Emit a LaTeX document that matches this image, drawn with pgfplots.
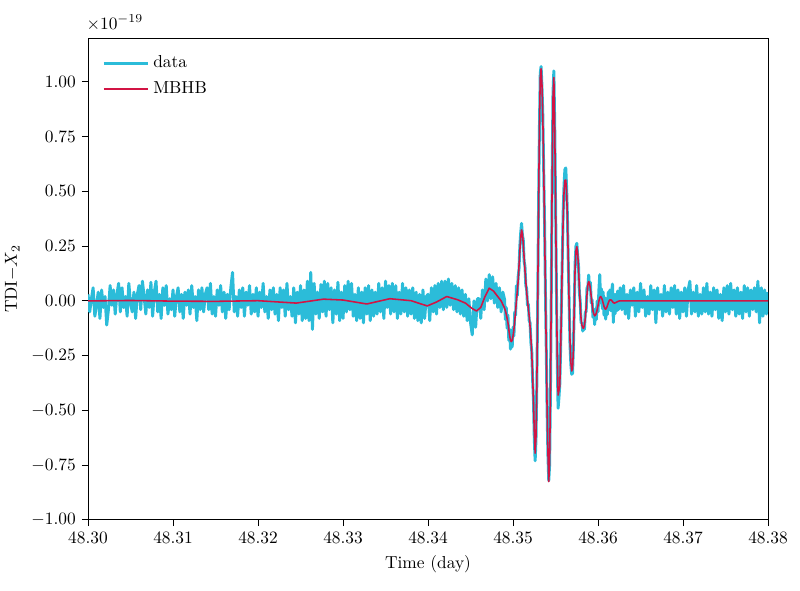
\documentclass[border=0pt]{standalone}
\usepackage{pgfplots}
\usepackage{pgfplotstable}
\pgfplotsset{compat=1.18}
\definecolor{datacol}{RGB}{43,188,217}
\definecolor{mbhbcol}{RGB}{210,20,68}

\pgfplotstableread{
x y
48.3000 0.03
48.3002 -0.05
48.3004 0.01
48.3006 0.06
48.3008 -0.07
48.3010 -0.02
48.3012 0.04
48.3014 -0.08
48.3016 0.05
48.3018 -0.03
48.3020 0.02
48.3022 -0.11
48.3024 -0.04
48.3026 0.07
48.3028 -0.02
48.3030 0.05
48.3032 -0.06
48.3034 0.03
48.3036 0.08
48.3038 -0.05
48.3040 0.06
48.3042 -0.03
48.3044 0.02
48.3046 -0.07
48.3048 0.08
48.3050 -0.01
48.3052 -0.05
48.3054 0.04
48.3056 -0.08
48.3058 0.03
48.3060 0.07
48.3062 -0.04
48.3064 0.09
48.3066 0.02
48.3068 -0.06
48.3070 0.05
48.3072 -0.03
48.3074 0.085
48.3076 -0.07
48.3078 0.04
48.3080 0.09
48.3082 -0.05
48.3084 0.03
48.3086 -0.08
48.3088 0.06
48.3090 -0.02
48.3092 0.07
48.3094 -0.06
48.3096 0.01
48.3098 -0.04
48.3100 0.05
48.3102 -0.07
48.3104 0.02
48.3106 0.06
48.3108 -0.05
48.3110 0.03
48.3112 -0.08
48.3114 0.04
48.3116 -0.02
48.3118 0.05
48.3120 -0.06
48.3122 0.07
48.3124 -0.03
48.3126 0.02
48.3128 -0.09
48.3130 0.05
48.3132 -0.04
48.3134 0.06
48.3136 -0.05
48.3138 0.03
48.3140 0.06
48.3142 -0.04
48.3144 0.08
48.3146 -0.06
48.3148 0.02
48.3150 -0.07
48.3152 0.05
48.3154 -0.02
48.3156 0.07
48.3158 -0.05
48.3160 0.04
48.3162 -0.08
48.3164 0.03
48.3166 -0.04
48.3168 0.06
48.3170 0.13
48.3172 -0.05
48.3174 0.02
48.3176 -0.07
48.3178 0.05
48.3180 -0.03
48.3182 0.06
48.3184 -0.07
48.3186 0.04
48.3188 -0.02
48.3190 0.07
48.3192 -0.06
48.3194 0.03
48.3196 -0.05
48.3198 0.06
48.3200 -0.07
48.3202 0.04
48.3204 -0.03
48.3206 0.08
48.3208 -0.05
48.3210 0.02
48.3212 -0.08
48.3214 0.05
48.3216 -0.04
48.3218 0.06
48.3220 -0.06
48.3222 0.03
48.3224 -0.09
48.3226 0.06
48.3228 -0.03
48.3230 0.05
48.3232 -0.07
48.3234 0.08
48.3236 -0.04
48.3238 0.02
48.3240 -0.07
48.3242 0.06
48.3244 -0.10
48.3246 0.04
48.3248 -0.06
48.3250 0.07
48.3252 -0.09
48.3254 0.05
48.3256 -0.08
48.3258 0.09
48.3260 -0.09
48.3262 0.13
48.3264 -0.13
48.3266 0.08
48.3268 -0.06
48.3270 0.04
48.3272 -0.08
48.3274 0.075
48.3276 -0.05
48.3278 0.09
48.3280 -0.07
48.3282 0.08
48.3284 -0.04
48.3286 0.06
48.3288 -0.10
48.3290 0.05
48.3292 -0.06
48.3294 0.085
48.3296 -0.09
48.3298 0.04
48.3300 -0.08
48.3302 0.07
48.3304 -0.05
48.3306 0.09
48.3308 -0.04
48.3310 0.08
48.3312 -0.07
48.3314 0.03
48.3316 -0.09
48.3318 0.06
48.3320 -0.08
48.3322 0.04
48.3324 -0.10
48.3326 0.06
48.3328 -0.06
48.3330 0.07
48.3332 -0.09
48.3334 0.05
48.3336 -0.07
48.3338 0.04
48.3340 -0.06
48.3342 0.08
48.3344 -0.05
48.3346 0.06
48.3348 -0.08
48.3350 0.09
48.3352 -0.03
48.3354 0.07
48.3356 -0.06
48.3358 0.08
48.3360 -0.05
48.3362 0.07
48.3364 -0.08
48.3366 0.04
48.3368 -0.06
48.3370 0.08
48.3372 -0.05
48.3374 0.06
48.3376 -0.07
48.3378 0.05
48.3380 -0.06
48.3382 0.06
48.3384 -0.08
48.3386 0.04
48.3388 -0.09
48.3390 0.03
48.3392 -0.10
48.3394 0.05
48.3396 -0.08
48.3398 0.02
48.3400 0.03
48.3402 -0.09
48.3404 0.06
48.3406 -0.05
48.3408 0.07
48.3410 -0.06
48.3412 0.08
48.3414 -0.03
48.3416 0.09
48.3418 -0.04
48.3420 0.09
48.3422 -0.03
48.3424 0.10
48.3426 -0.02
48.3428 0.08
48.3430 -0.04
48.3432 0.07
48.3434 -0.05
48.3436 0.06
48.3438 -0.06
48.3440 0.05
48.3442 -0.07
48.3444 0.03
48.3446 -0.09
48.3448 0.01
48.3450 -0.10
48.3452 -0.155
48.3454 0.00
48.3456 -0.12
48.3458 0.01
48.3460 0.01
48.3462 -0.08
48.3464 0.05
48.3466 -0.04
48.3468 0.10
48.3470 0.00
48.3472 0.12
48.3474 0.01
48.3476 0.11
48.3478 -0.01
48.3480 0.08
48.3482 -0.03
48.3484 0.06
48.3486 -0.05
48.3488 0.04
48.3490 0.007
48.3491 -0.085
48.3492 -0.03
48.3493 -0.125
48.3494 -0.065
48.3495 -0.18
48.3496 -0.13
48.3497 -0.22
48.3498 -0.156
48.3499 -0.21
48.3500 -0.12
48.3501 -0.16
48.3502 -0.05
48.3503 -0.065
48.3504 0.07
48.3505 0.025
48.3506 0.11
48.3507 0.145
48.3508 0.25
48.3509 0.31
48.3510 0.354
48.3511 0.30
48.3512 0.28
48.3513 0.18
48.3514 0.16
48.3515 0.07
48.3516 0.055
48.3517 -0.02
48.3518 -0.015
48.3519 -0.09
48.3520 -0.10
48.3521 -0.19
48.3522 -0.23
48.3523 -0.36
48.3524 -0.45
48.3525 -0.63
48.3526 -0.73
48.3527 -0.63
48.3528 -0.37
48.3529 -0.01
48.3530 0.43
48.3531 0.78
48.3532 1.04
48.3533 1.07
48.3534 0.98
48.3535 0.85
48.3536 0.61
48.3537 0.37
48.3538 0.07
48.3539 -0.20
48.3540 -0.49
48.3541 -0.70
48.3542 -0.82
48.3543 -0.75
48.3544 -0.41
48.3545 0.05
48.3546 0.57
48.3547 0.95
48.3548 1.05
48.3549 0.81
48.3550 0.45
48.3551 0.07
48.3552 -0.28
48.3553 -0.49
48.3554 -0.44
48.3555 -0.38
48.3556 -0.21
48.3557 0.00
48.3558 0.21
48.3559 0.41
48.3560 0.53
48.3561 0.60
48.3562 0.607
48.3563 0.52
48.3564 0.38
48.3565 0.17
48.3566 -0.01
48.3567 -0.20
48.3568 -0.29
48.3569 -0.335
48.3570 -0.33
48.3571 -0.21
48.3572 -0.03
48.3573 0.17
48.3574 0.25
48.3575 0.263
48.3576 0.21
48.3577 0.16
48.3578 0.04
48.3579 0.00
48.3580 -0.10
48.3581 -0.10
48.3582 -0.138
48.3583 -0.105
48.3584 -0.13
48.3585 -0.05
48.3586 -0.05
48.3587 0.06
48.3588 0.065
48.3589 0.118
48.3590 0.05
48.3591 0.085
48.3592 -0.01
48.3593 0.005
48.3594 -0.075
48.3595 -0.04
48.3596 -0.108
48.3597 -0.035
48.3598 -0.085
48.3599 0.00
48.3600 -0.05
48.3601 0.05
48.3602 0.12
48.3603 -0.01
48.3604 0.055
48.3605 -0.035
48.3606 0.04
48.3607 -0.065
48.3608 0.015
48.3609 -0.083
48.3610 0.008
48.3611 -0.062
48.3612 0.04
48.3613 -0.035
48.3614 0.05
48.3615 -0.045
48.3616 0.042
48.3617 0.077
48.3618 -0.098
48.3619 0.03
48.3620 -0.059
48.3621 0.03
48.3622 -0.045
48.3623 0.045
48.3624 -0.04
48.3626 0.06
48.3628 -0.04
48.3630 0.07
48.3632 -0.06
48.3634 0.03
48.3636 -0.08
48.3638 0.05
48.3640 -0.02
48.3642 0.06
48.3644 -0.07
48.3646 0.04
48.3648 -0.05
48.3650 0.08
48.3652 -0.03
48.3654 0.05
48.3656 -0.07
48.3658 0.02
48.3660 -0.06
48.3662 0.07
48.3664 -0.04
48.3666 0.05
48.3668 -0.10
48.3670 0.06
48.3672 -0.04
48.3674 0.03
48.3676 -0.07
48.3678 0.07
48.3680 -0.05
48.3682 0.04
48.3684 -0.06
48.3686 0.06
48.3688 -0.03
48.3690 0.07
48.3692 -0.06
48.3694 0.05
48.3696 -0.08
48.3698 0.04
48.3700 -0.05
48.3702 0.06
48.3704 -0.07
48.3706 0.05
48.3708 0.09
48.3710 -0.06
48.3712 0.04
48.3714 -0.05
48.3716 0.07
48.3718 -0.07
48.3720 0.03
48.3722 -0.06
48.3724 0.06
48.3726 -0.05
48.3728 0.08
48.3730 -0.06
48.3732 0.04
48.3734 -0.07
48.3736 0.06
48.3738 -0.04
48.3740 0.05
48.3742 -0.08
48.3744 0.03
48.3746 -0.09
48.3748 0.06
48.3750 -0.05
48.3752 0.07
48.3754 -0.06
48.3756 0.08
48.3758 -0.04
48.3760 0.05
48.3762 -0.07
48.3764 0.06
48.3766 -0.06
48.3768 0.04
48.3770 -0.08
48.3772 0.07
48.3774 -0.05
48.3776 0.06
48.3778 -0.07
48.3780 0.05
48.3782 -0.04
48.3784 0.06
48.3786 -0.05
48.3788 0.09
48.3790 -0.10
48.3792 0.06
48.3794 -0.07
48.3796 0.05
48.3798 -0.06
48.3800 0.04
}\datatab

\pgfplotstableread{
x y
48.3000 0.000
48.3050 0.002
48.3100 -0.001
48.3150 -0.002
48.3200 0.001
48.3245 -0.010
48.3277 0.008
48.3300 0.004
48.3328 -0.014
48.3355 0.010
48.3380 0.001
48.3399 -0.023
48.3410 -0.005
48.3422 0.020
48.3435 0.005
48.3444 -0.010
48.3452 -0.035
48.3457 -0.046
48.3462 -0.030
48.3467 0.020
48.3472 0.058
48.3477 0.045
48.3482 0.020
48.3486 0.000
48.3490 -0.033
48.3491 -0.045
48.3492 -0.06
48.3493 -0.08
48.3494 -0.10
48.3495 -0.13
48.3496 -0.16
48.3497 -0.18
48.3498 -0.186
48.3499 -0.18
48.3500 -0.16
48.3501 -0.13
48.3502 -0.09
48.3503 -0.045
48.3504 0.00
48.3505 0.045
48.3506 0.09
48.3507 0.16
48.3508 0.23
48.3509 0.29
48.3510 0.324
48.3511 0.31
48.3512 0.26
48.3513 0.20
48.3514 0.14
48.3515 0.09
48.3516 0.04
48.3517 0.00
48.3518 -0.035
48.3519 -0.07
48.3520 -0.115
48.3521 -0.17
48.3522 -0.24
48.3523 -0.34
48.3524 -0.46
48.3525 -0.60
48.3526 -0.695
48.3527 -0.62
48.3528 -0.38
48.3529 0.00
48.3530 0.42
48.3531 0.79
48.3532 1.02
48.3533 1.06
48.3534 0.99
48.3535 0.84
48.3536 0.62
48.3537 0.36
48.3538 0.08
48.3539 -0.21
48.3540 -0.48
48.3541 -0.69
48.3542 -0.825
48.3543 -0.74
48.3544 -0.42
48.3545 0.06
48.3546 0.56
48.3547 0.93
48.3548 1.02
48.3549 0.80
48.3550 0.46
48.3551 0.08
48.3552 -0.25
48.3553 -0.43
48.3554 -0.41
48.3555 -0.39
48.3556 -0.22
48.3557 -0.02
48.3558 0.20
48.3559 0.38
48.3560 0.50
48.3561 0.55
48.3562 0.552
48.3563 0.50
48.3564 0.37
48.3565 0.18
48.3566 -0.02
48.3567 -0.18
48.3568 -0.28
48.3569 -0.32
48.3570 -0.31
48.3571 -0.22
48.3572 -0.02
48.3573 0.15
48.3574 0.23
48.3575 0.248
48.3576 0.22
48.3577 0.15
48.3578 0.06
48.3579 -0.02
48.3580 -0.08
48.3581 -0.11
48.3582 -0.123
48.3583 -0.125
48.3584 -0.11
48.3585 -0.08
48.3586 -0.03
48.3587 0.03
48.3588 0.075
48.3589 0.088
48.3590 0.08
48.3591 0.055
48.3592 0.02
48.3593 -0.015
48.3594 -0.045
48.3595 -0.06
48.3596 -0.068
48.3597 -0.065
48.3598 -0.055
48.3599 -0.04
48.3600 -0.02
48.3601 0.00
48.3602 0.015
48.3603 0.02
48.3604 0.015
48.3605 0.005
48.3606 -0.01
48.3607 -0.025
48.3608 -0.035
48.3609 -0.038
48.3610 -0.032
48.3611 -0.022
48.3612 -0.01
48.3613 0.00
48.3614 0.005
48.3615 0.005
48.3616 0.002
48.3617 -0.003
48.3618 -0.008
48.3619 -0.01
48.3620 -0.009
48.3622 -0.005
48.3625 0.000
48.3700 0.000
48.3800 0.000
}\mbhbtab

\begin{document}
\begin{tikzpicture}
\begin{axis}[
  name=ax,
  scale only axis,
  width=391.7pt, height=277.6pt,
  xmin=48.30, xmax=48.38,
  ymin=-1.0, ymax=1.2,
  clip mode=individual,
  xtick={48.30,48.31,48.32,48.33,48.34,48.35,48.36,48.37,48.38},
  ytick={-1,-0.75,-0.5,-0.25,0,0.25,0.5,0.75,1},
  scaled x ticks=false, scaled y ticks=false,
  xticklabel style={/pgf/number format/.cd, fixed, fixed zerofill, precision=2},
  yticklabel style={/pgf/number format/.cd, fixed, fixed zerofill, precision=2},
  tick align=outside, tick pos=left,
  major tick length=3.5pt,
  tick style={black, line width=0.6pt},
  axis line style={line width=0.6pt},
  xlabel={Time (day)},
  ylabel={TDI$-X_2$},
  legend style={at={(0.013,0.978)}, anchor=north west, draw=none, fill=none,
    row sep=2.5pt, font=\normalsize},
  legend cell align=left,
  legend image code/.code={\draw[#1] (0pt,0pt) -- (22.6pt,0pt); \path (0pt,0pt) -- (25.6pt,0pt);},
]
\addplot[datacol, line width=1.7pt, line join=round] table[x=x, y=y] {\datatab};
\addlegendentry{data}
\addplot[mbhbcol, line width=0.9pt, line join=round] table[x=x, y=y] {\mbhbtab};
\addlegendentry{MBHB}
\node[anchor=south west, inner sep=0pt] at (rel axis cs:0,1) [yshift=4pt, xshift=-1pt] {$\times10^{-19}$};
\end{axis}
\pgfresetboundingbox
\path[use as bounding box] ([shift={(-50.7pt,-40.9pt)}]ax.south west) rectangle ([shift={(18.4pt,21.9pt)}]ax.north east);
\end{tikzpicture}
\end{document}
